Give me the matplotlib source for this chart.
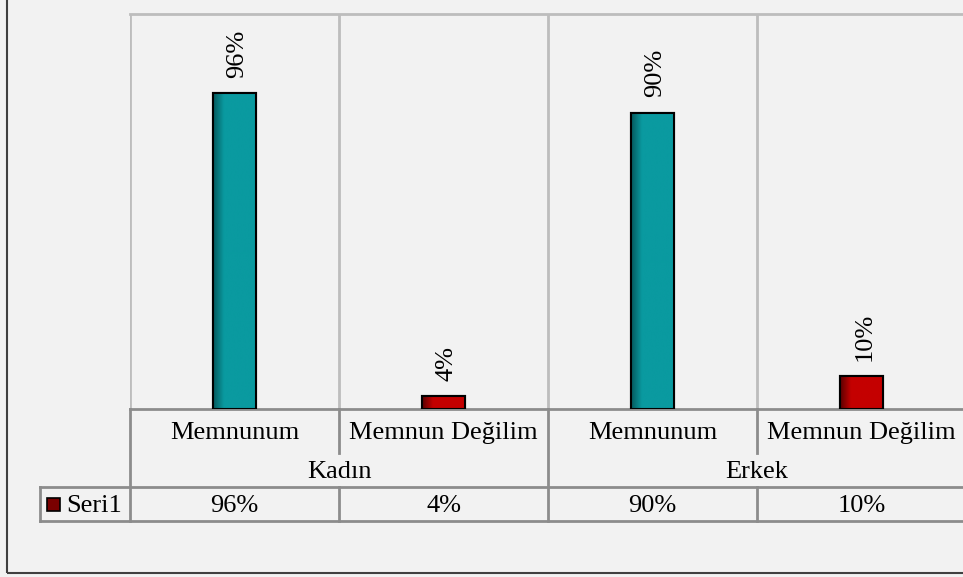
import numpy as np
from matplotlib import pyplot as plt
from matplotlib.colors import LinearSegmentedColormap
from matplotlib.patches import Rectangle

plt.rcParams["font.family"] = ["Liberation Serif", "DejaVu Serif"]

groups = ["Kadın", "Erkek"]
answers = ["Memnunum", "Memnun Değilim", "Memnunum", "Memnun Değilim"]
values = [0.96, 0.04, 0.90, 0.10]
series_name = "Seri1"

# main / shaded-edge colours for each bar
main_colors = ["#0a9aa0", "#c40000", "#0a9aa0", "#c40000"]
edge_colors = ["#05585c", "#5a0000", "#05585c", "#5a0000"]

W, H = 963, 577
FS = 19
fig = plt.figure(figsize=(W / 100, H / 100), dpi=100)
fig.patch.set_facecolor("#f2f2f2")

# outer chart border (top/right run off the picture)
fig.add_artist(Rectangle((7 / W, 1 - 573 / H), 2, 2, transform=fig.transFigure,
                         fill=False, edgecolor="#404040", lw=1.5))

px_left, px_right = 130, 966
ax = fig.add_axes([px_left / W, 1 - 409 / H, (px_right - px_left) / W, (409 - 14) / H])
ax.set_facecolor("#f2f2f2")

n = len(values)
x = np.arange(n) + 0.5
bw = 0.21
bars = ax.bar(x, values, width=bw, color=main_colors, edgecolor="black", linewidth=1.5, zorder=3)

# horizontal gradient on each bar, dark at the left edge
grad = np.linspace(0, 1, 200)[None, :]
for b, c_main, c_edge in zip(bars, main_colors, edge_colors):
    cmap = LinearSegmentedColormap.from_list("g", [(0, c_edge), (0.25, c_main), (1, c_main)])
    im = ax.imshow(grad, extent=[b.get_x(), b.get_x() + b.get_width(), 0, b.get_height()],
                   cmap=cmap, aspect="auto", zorder=3.5)
    im.set_clip_path(b)
    ax.add_patch(Rectangle((b.get_x(), 0), b.get_width(), b.get_height(), fill=False,
                           edgecolor="black", lw=1.5, zorder=4))

for xi, v in zip(x, values):
    ax.annotate(f"{v:.0%}", (xi, v), xytext=(2, 11), textcoords="offset points",
                rotation=90, ha="center", va="bottom", fontsize=FS)

ax.set_xlim(0, n)
ax.set_ylim(0, 1.2)
ax.set_xticks([])
ax.set_yticks([])
for s in ["left", "right"]:
    ax.spines[s].set_visible(False)
ax.spines["top"].set_color("#bdbdbd")
ax.spines["top"].set_linewidth(2)
ax.spines["bottom"].set_color("#8c8c8c")
ax.spines["bottom"].set_linewidth(2)
for xv in range(n + 1):
    ax.axvline(xv, color="#bdbdbd", lw=2, zorder=1)

# data table under the axis
tab = fig.add_axes([px_left / W, 1 - 521 / H, (px_right - px_left) / W, (521 - 409) / H])
tab.set_xlim(0, n)
tab.set_ylim(0, 112)  # pixel rows: 44 / 34 / 34
tab.axis("off")
line_kw = dict(color="#8c8c8c", lw=2, clip_on=False)

for i, a in enumerate(answers):
    tab.text(i + 0.5, 112 - 24, a, ha="center", va="center", fontsize=FS)
for j, g in enumerate(groups):
    tab.text(2 * j + 1, 34 + 15, g, ha="center", va="center", fontsize=FS)
for i, v in enumerate(values):
    tab.text(i + 0.5, 15, f"{v:.0%}", ha="center", va="center", fontsize=FS)

cw = (px_right - px_left) / n  # pixels per category
left_cell = (40 - px_left) / cw
tab.plot([left_cell, n], [34, 34], **line_kw)
tab.plot([left_cell, n], [0, 0], **line_kw)
tab.plot([left_cell, left_cell], [0, 34], **line_kw)
tab.plot([0, 0], [0, 112], **line_kw)
tab.plot([2, 2], [0, 112], **line_kw)
for xv in [1, 3]:
    tab.plot([xv, xv], [68, 112], **line_kw)
    tab.plot([xv, xv], [0, 34], **line_kw)

# legend key inside the table
tab.add_patch(Rectangle((left_cell + 7 / cw, 10), 13 / cw, 13,
                        facecolor="#7a0000", edgecolor="black", lw=1.2, clip_on=False))
tab.text(left_cell + 26 / cw, 15, series_name, ha="left", va="center", fontsize=FS)

fig.savefig("out.png", dpi=100, facecolor=fig.get_facecolor())
